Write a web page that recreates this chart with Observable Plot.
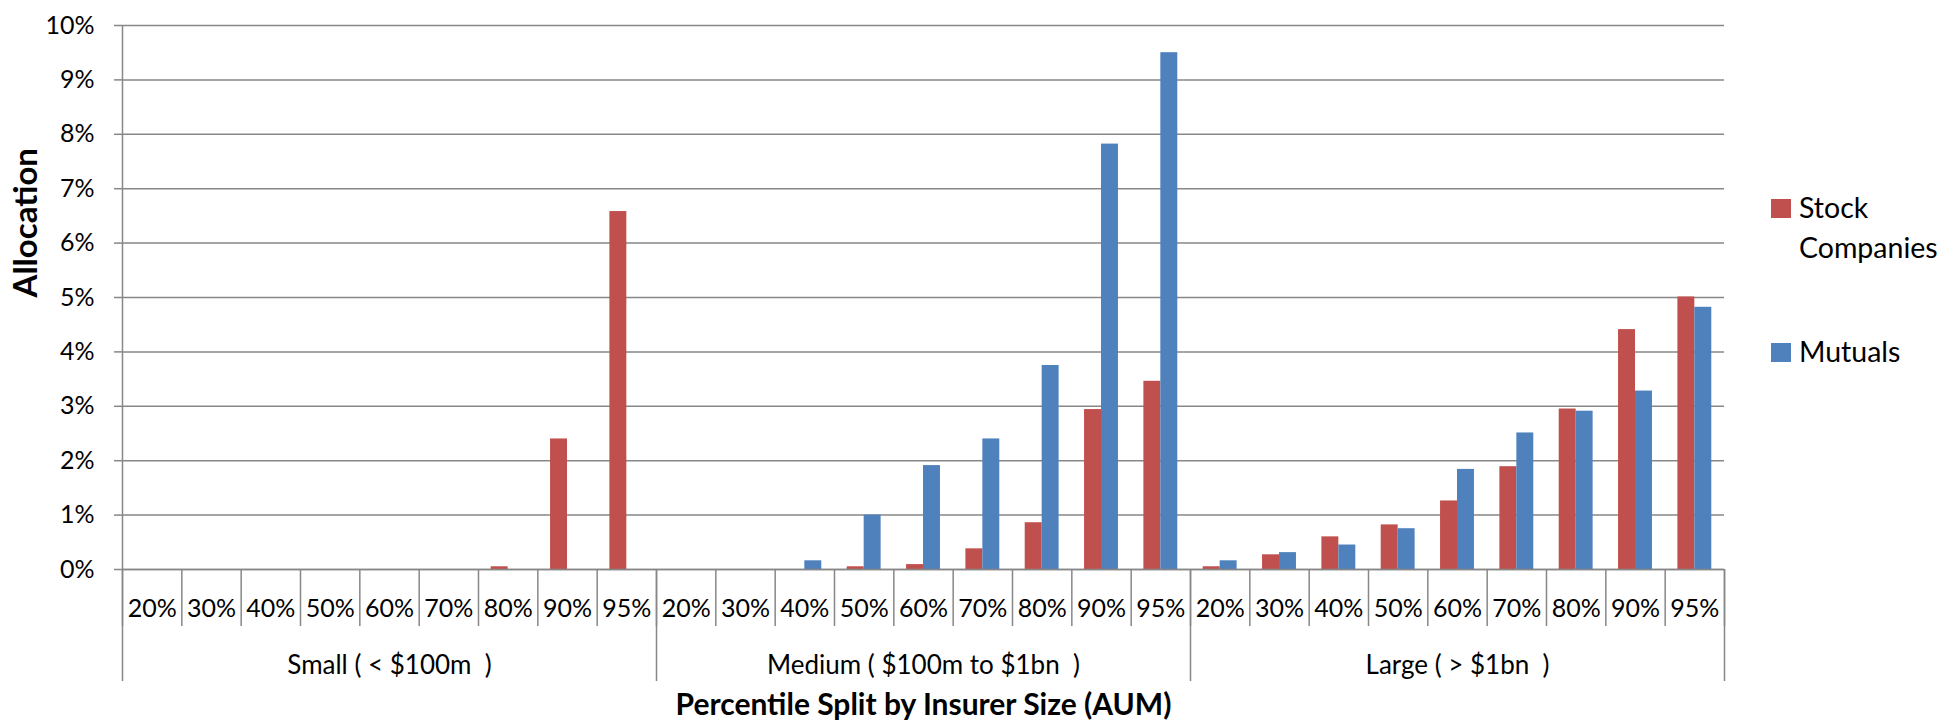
<!DOCTYPE html>
<html><head><meta charset="utf-8">
<script src="https://cdn.jsdelivr.net/npm/d3@7"></script>
<script src="https://cdn.jsdelivr.net/npm/@observablehq/plot@0.6"></script>
<style>
html,body{margin:0;padding:0;background:#fff;}
#wrap{position:relative;width:1946px;height:722px;font-family:Lato,"Open Sans",sans-serif;}
#wrap svg text{white-space:pre;}
.lg-sw{position:absolute;width:20px;height:19px;}
.lg-tx{position:absolute;width:147px;font-size:28.5px;line-height:40px;color:#000;}
</style></head><body><div id="wrap"></div>
<script>
const groups = ["Small ( < $100m  )", "Medium ( $100m to $1bn  )", "Large ( > $1bn  )"];
const percentiles = ["20%", "30%", "40%", "50%", "60%", "70%", "80%", "90%", "95%"];
const seriesNames = ["Stock Companies", "Mutuals"];
const seriesColors = ["#C0504D", "#4F81BD"];
// allocation in %, ordered Small(20..95), Medium(20..95), Large(20..95)
const stockValues = [0, 0, 0, 0, 0, 0, 0.05, 2.40, 6.58,
                     0, 0, 0, 0.05, 0.09, 0.38, 0.86, 2.94, 3.46,
                     0.05, 0.27, 0.60, 0.82, 1.26, 1.89, 2.95, 4.41, 5.01];
const mutualValues = [0, 0, 0, 0, 0, 0, 0, 0, 0,
                      0, 0, 0.16, 1.00, 1.91, 2.40, 3.75, 7.82, 9.50,
                      0.16, 0.31, 0.45, 0.75, 1.84, 2.51, 2.91, 3.28, 4.82];
const yTicks = [0, 1, 2, 3, 4, 5, 6, 7, 8, 9, 10];
const yTitle = "Allocation";
const xTitle = "Percentile Split by Insurer Size (AUM)";

const per = percentiles.length;
const n = groups.length * per;
const rows = [];
groups.forEach((g, gi) => percentiles.forEach((p, pi) => {
  const i = gi * per + pi;
  rows.push({i, slot: 0, series: seriesNames[0], value: stockValues[i]});
  rows.push({i, slot: 1, series: seriesNames[1], value: mutualValues[i]});
}));
const gap = 0.75 / 3.5; // Excel gap width 150%
const grey = "#878787";
const blank = () => "";

const chart = Plot.plot({
  width: 1946, height: 722,
  marginLeft: 122, marginRight: 222, marginTop: 25, marginBottom: 153,
  style: {fontFamily: "Lato, 'Open Sans', sans-serif", fontSize: "25px", background: "#fff", color: "#000"},
  x: {domain: [0, n]},
  y: {domain: [0, 10]},
  color: {domain: seriesNames, range: seriesColors},
  marks: [
    Plot.gridY({ticks: yTicks, stroke: grey, strokeOpacity: 1, strokeWidth: 1.5}),
    Plot.axisY({ticks: yTicks, tickSize: 8, tickPadding: 20, tickFormat: d => d + "%", stroke: grey, strokeWidth: 1.5, color: "#000", label: null}),
    Plot.ruleX([0], {stroke: grey, strokeWidth: 1.5}),
    Plot.axisX({ticks: d3.range(0, n + 1), tickSize: 57, tickFormat: blank, stroke: grey, strokeWidth: 1.5, label: null}),
    Plot.axisX({ticks: d3.range(0, n + 1, per), tickSize: 112, tickFormat: blank, stroke: grey, strokeWidth: 1.5, label: null}),
    Plot.axisX({ticks: d3.range(n).map(i => i + 0.5), tickSize: 0, tickPadding: 30, color: "#000",
                tickFormat: v => percentiles[Math.floor(v) % per], label: null}),
    Plot.axisX({ticks: groups.map((g, gi) => gi * per + per / 2), tickSize: 0, tickPadding: 86, color: "#000", fontSize: 26,
                tickFormat: v => groups[Math.floor(v / per)], label: null}),
    Plot.rectY(rows.filter(d => d.value > 0), {
      x1: d => d.i + gap + d.slot * (0.5 - gap),
      x2: d => d.i + 0.5 + d.slot * (0.5 - gap),
      y1: 0, y2: "value", fill: "series"
    }),
    Plot.ruleY([0], {stroke: grey, strokeWidth: 1.5}),
    Plot.text([yTitle], {text: d => d, frameAnchor: "left", dx: -96, rotate: -90, fontWeight: "bold", fontSize: 33, fill: "#000"}),
    Plot.text([xTitle], {text: d => d, frameAnchor: "bottom", dy: 136, lineAnchor: "middle", fontWeight: "bold", fontSize: 30, fill: "#000"})
  ]
});
const wrap = document.getElementById("wrap");
wrap.appendChild(chart);
const legendTops = [199, 343];
seriesNames.forEach((s, k) => {
  const sw = document.createElement("div");
  sw.className = "lg-sw";
  sw.style.left = "1771px"; sw.style.top = legendTops[k] + "px"; sw.style.background = seriesColors[k];
  wrap.appendChild(sw);
  const tx = document.createElement("div");
  tx.className = "lg-tx";
  tx.style.left = "1799px"; tx.style.top = (legendTops[k] - 12) + "px";
  tx.textContent = s;
  wrap.appendChild(tx);
});
</script></body></html>
